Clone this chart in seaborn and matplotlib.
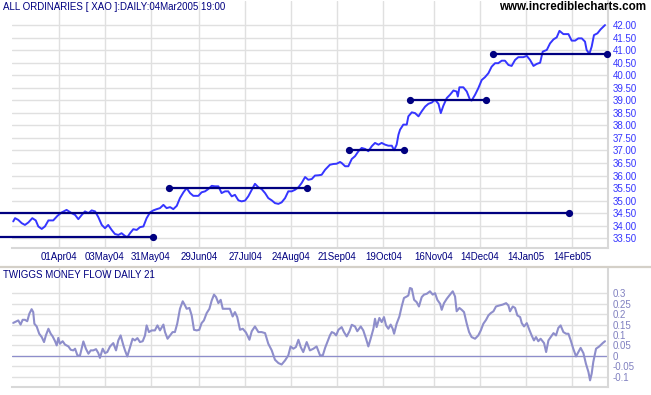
import matplotlib
matplotlib.use("Agg")
import matplotlib.pyplot as plt
import seaborn as sns
import pandas as pd
import numpy as np

sns.set_theme(style="whitegrid")
plt.rcParams['font.family'] = ['Liberation Sans', 'DejaVu Sans']

# x values are trading-day numbers counted from the first bar (04Mar04)
price_bar = [
    0.1, 0.9, 2.3, 3.8, 5.2, 6.7, 8.4, 9.9, 11.0, 12.5, 13.9, 15.4, 17.5, 19.3,
    21.2, 23.3, 25.5, 27.0, 28.4, 29.9, 31.3, 32.8, 34.2, 35.7, 37.1, 38.6, 40.0,
    41.4, 42.9, 44.3, 45.8, 47.2, 48.7, 49.7, 50.9, 52.3, 53.8, 55.2, 56.7, 58.1,
    59.6, 61.0, 62.5, 63.9, 65.4, 66.8, 68.3, 69.7, 71.2, 72.6, 74.1, 75.5, 77.0,
    78.4, 80.6, 82.0, 83.5, 84.9, 86.4, 87.8, 89.3, 90.7, 92.2, 93.6, 95.1, 96.5,
    98.0, 99.4, 100.9, 102.3, 103.8, 105.2, 106.7, 108.1, 109.6, 111.0, 112.5,
    113.9, 115.4, 116.8, 118.3, 119.7, 121.2, 122.6, 124.1, 125.5, 127.0, 128.4,
    129.9, 131.3, 132.8, 134.2, 135.7, 137.8, 139.3, 140.7, 142.2, 142.9, 144.4,
    145.8, 147.3, 148.7, 150.2, 151.6, 153.1, 154.5, 156.0, 157.4, 158.9, 160.3,
    161.8, 163.2, 164.7, 165.7, 166.8, 167.6, 168.3, 169.7, 171.2, 171.9, 173.4,
    174.8, 176.3, 177.7, 179.2, 180.6, 182.1, 183.5, 185.0, 186.0, 187.1, 188.6,
    190.0, 191.5, 192.9, 193.4, 194.1, 195.8, 197.3, 198.7, 199.4, 200.9, 202.3,
    203.8, 205.2, 206.7, 208.1, 209.6, 211.0, 212.5, 213.9, 215.4, 216.8, 218.3,
    219.7, 221.9, 223.4, 224.8, 226.3, 227.7, 229.2, 230.3, 232.1, 233.5, 235.0,
    236.4, 237.6, 239.3, 241.5, 242.9, 244.4, 245.8, 247.3, 248.7, 249.4, 250.6,
    251.6, 252.6, 254.1, 255.5, 257.4,
]
price = [
    34.17, 34.30, 34.23, 34.10, 34.03, 34.13, 34.30, 34.21, 33.97, 33.87, 33.97,
    34.21, 34.21, 34.39, 34.53, 34.63, 34.50, 34.43, 34.26, 34.43, 34.57, 34.50,
    34.61, 34.57, 34.34, 34.03, 33.90, 34.03, 33.83, 33.67, 33.63, 33.70, 33.59,
    33.54, 33.70, 33.86, 33.83, 33.94, 33.97, 34.30, 34.53, 34.61, 34.66, 34.70,
    34.83, 34.70, 34.74, 34.66, 34.79, 35.10, 35.33, 35.50, 35.30, 35.19, 35.19,
    35.33, 35.37, 35.46, 35.59, 35.57, 35.57, 35.30, 35.37, 35.37, 35.17, 35.23,
    35.01, 34.97, 35.00, 35.17, 35.43, 35.67, 35.53, 35.46, 35.30, 35.10, 35.01,
    34.90, 34.87, 34.93, 35.10, 35.37, 35.37, 35.43, 35.53, 35.70, 35.94, 35.83,
    35.86, 36.00, 36.01, 36.03, 36.23, 36.43, 36.46, 36.47, 36.54, 36.50, 36.37,
    36.37, 36.66, 36.77, 36.97, 37.10, 37.06, 36.97, 37.17, 37.30, 37.23, 37.30,
    37.23, 37.19, 37.19, 37.01, 37.23, 37.63, 37.83, 38.03, 38.03, 38.36, 38.52,
    38.49, 38.36, 38.56, 38.75, 38.86, 38.91, 39.02, 38.86, 38.49, 38.78, 39.09,
    39.22, 39.39, 39.35, 39.15, 39.52, 39.52, 39.35, 39.02, 38.99, 39.22, 39.48,
    39.81, 39.92, 40.08, 40.34, 40.48, 40.48, 40.58, 40.58, 40.41, 40.37, 40.61,
    40.72, 40.72, 40.77, 40.61, 40.37, 40.45, 40.50, 40.94, 41.01, 41.27, 41.43,
    41.51, 41.77, 41.64, 41.64, 41.38, 41.38, 41.47, 41.47, 41.34, 41.01, 40.85,
    41.14, 41.60, 41.67, 41.83, 42.00,
]

mf_bar = [
    0.1, 1.6, 2.3, 3.3, 4.2, 5.2, 6.2, 7.1, 8.1, 8.8, 9.3, 10.3, 11.4, 12.5, 13.5,
    14.3, 15.4, 16.4, 17.2, 18.3, 19.0, 19.7, 20.4, 21.6, 22.6, 24.1, 25.1, 26.2,
    27.0, 28.0, 29.1, 30.6, 31.7, 32.8, 33.8, 34.9, 36.1, 37.1, 37.8, 39.0, 40.0,
    41.0, 42.2, 43.6, 44.8, 45.8, 46.8, 48.0, 48.7, 49.7, 50.9, 52.0, 53.0, 54.1,
    55.2, 56.4, 57.4, 58.1, 59.1, 60.3, 61.7, 62.8, 63.9, 65.4, 66.1, 67.2, 68.3,
    69.4, 70.4, 71.4, 72.6, 73.8, 74.8, 75.5, 76.7, 77.7, 78.7, 79.9, 81.0, 82.0,
    83.0, 84.2, 85.4, 86.4, 87.4, 88.3, 89.3, 90.3, 91.2, 92.6, 94.3, 95.5, 96.5,
    97.5, 98.7, 99.9, 101.3, 102.8, 103.8, 105.2, 106.7, 108.1, 109.6, 111.0,
    112.5, 113.9, 115.4, 116.8, 118.3, 119.7, 120.7, 121.9, 123.0, 124.1, 125.1,
    126.2, 127.7, 129.1, 130.6, 132.0, 133.5, 134.7, 135.7, 136.7, 137.8, 138.6,
    139.6, 140.5, 141.5, 142.9, 143.9, 145.1, 146.3, 147.3, 148.7, 149.7, 151.2,
    152.3, 153.5, 154.5, 155.5, 156.7, 157.4, 158.1, 159.3, 160.3, 161.3, 162.2,
    163.2, 164.2, 165.1, 165.7, 166.8, 168.0, 169.0, 170.0, 171.2, 171.9, 172.6,
    173.4, 174.4, 175.5, 176.5, 177.7, 178.7, 179.9, 181.3, 182.5, 183.5, 184.5,
    185.7, 186.4, 187.4, 188.6, 190.0, 191.2, 192.2, 192.9, 194.1, 195.1, 196.1,
    197.3, 198.3, 199.4, 200.9, 202.3, 203.4, 204.5, 205.7, 206.7, 207.7, 208.9,
    210.0, 211.5, 212.9, 214.4, 215.4, 216.1, 217.3, 218.3, 219.3, 220.5, 221.2,
    222.2, 223.4, 224.5, 225.5, 226.5, 227.4, 228.4, 229.4, 230.9, 231.8, 232.8,
    233.8, 235.0, 236.1, 237.1, 238.1, 239.3, 240.5, 241.5, 242.5, 243.6, 244.8,
    245.8, 246.8, 248.0, 249.1, 250.2, 250.9, 251.6, 252.3, 253.5, 254.9, 256.4,
    257.4,
]
money_flow = [
    0.158, 0.166, 0.170, 0.150, 0.173, 0.173, 0.166, 0.202, 0.224, 0.210, 0.154,
    0.141, 0.106, 0.090, 0.066, 0.098, 0.130, 0.106, 0.094, 0.070, 0.050, 0.086,
    0.058, 0.070, 0.054, 0.045, 0.029, 0.026, 0.034, 0.002, 0.000, 0.069, 0.034,
    0.010, 0.026, 0.026, 0.032, 0.013, -0.010, 0.034, 0.013, 0.018, 0.045, 0.061,
    0.026, 0.074, 0.098, 0.050, 0.026, -0.003, 0.042, 0.082, 0.074, 0.085, 0.066,
    0.070, 0.098, 0.146, 0.114, 0.122, 0.122, 0.146, 0.122, 0.150, 0.114, 0.082,
    0.098, 0.114, 0.114, 0.154, 0.226, 0.262, 0.242, 0.226, 0.230, 0.194, 0.125,
    0.122, 0.125, 0.157, 0.170, 0.205, 0.226, 0.266, 0.294, 0.282, 0.253, 0.269,
    0.226, 0.226, 0.226, 0.189, 0.210, 0.186, 0.125, 0.130, 0.112, 0.077, 0.118,
    0.141, 0.114, 0.114, 0.109, 0.058, 0.026, -0.019, -0.035, -0.042, -0.022,
    0.002, 0.045, 0.034, 0.042, 0.077, 0.042, 0.018, 0.066, 0.026, 0.034, 0.045,
    0.002, 0.002, 0.038, 0.066, 0.098, 0.114, 0.109, 0.098, 0.125, 0.138, 0.114,
    0.093, 0.118, 0.149, 0.141, 0.118, 0.141, 0.122, 0.082, 0.045, 0.082, 0.130,
    0.178, 0.138, 0.182, 0.162, 0.186, 0.146, 0.130, 0.150, 0.130, 0.106, 0.154,
    0.189, 0.237, 0.278, 0.285, 0.290, 0.326, 0.322, 0.269, 0.258, 0.237, 0.282,
    0.294, 0.298, 0.310, 0.294, 0.301, 0.269, 0.250, 0.221, 0.253, 0.274, 0.294,
    0.310, 0.285, 0.214, 0.230, 0.221, 0.210, 0.154, 0.114, 0.090, 0.082, 0.098,
    0.122, 0.154, 0.173, 0.194, 0.205, 0.214, 0.237, 0.242, 0.246, 0.253, 0.242,
    0.214, 0.237, 0.230, 0.194, 0.186, 0.157, 0.141, 0.157, 0.125, 0.098, 0.074,
    0.090, 0.070, 0.082, 0.061, 0.018, 0.074, 0.090, 0.109, 0.098, 0.134, 0.146,
    0.114, 0.106, 0.106, 0.074, 0.034, -0.003, 0.018, 0.038, 0.013, -0.038,
    -0.078, -0.118, -0.086, -0.030, 0.034, 0.045, 0.061, 0.070,
]

# trend lines: start bar, end bar, level, dot at start, dot at end
trend_start = [-5.6, -5.6, 68.0, 146.0, 172.6, 208.7]
trend_end = [241.7, 61.0, 128.0, 170.0, 205.7, 258.3]
trend_level = [34.52, 33.53, 35.50, 37.00, 39.00, 40.83]
trend_dot_start = [False, False, True, True, True, True]

tick_bars = [20, 40, 60, 81, 101, 121, 141, 161, 183, 203, 223, 243]
tick_labels = ['01Apr04', '03May04', '31May04', '29Jun04', '27Jul04', '24Aug04',
               '21Sep04', '19Oct04', '16Nov04', '14Dec04', '14Jan05', '14Feb05']
price_ticks = np.arange(33.5, 42.01, 0.5)
mf_ticks = [-0.1, -0.05, 0, 0.05, 0.1, 0.15, 0.2, 0.25, 0.3]
mf_labels = ['-0.1', '-0.05', '0', '0.05', '0.1', '0.15', '0.2', '0.25', '0.3']

navy = '#000080'
grid_c = '#e0e0e0'
W, H = 651, 395

fig = plt.figure(figsize=(W / 100, H / 100), dpi=100)
fig.patch.set_facecolor('white')
ax1 = fig.add_axes([12 / W, 1 - 248 / H, 596 / W, 247 / H])
ax2 = fig.add_axes([12 / W, 1 - 387 / H, 596 / W, 119 / H])

df_price = pd.DataFrame({'bar': price_bar, 'close': price})
df_mf = pd.DataFrame({'bar': mf_bar, 'tmf': money_flow})

sns.lineplot(data=df_price, x='bar', y='close', ax=ax1, color='#3535ff', lw=1.4, zorder=3)
for x0, x1, lev, d0 in zip(trend_start, trend_end, trend_level, trend_dot_start):
    ax1.plot([x0, x1], [lev, lev], color=navy, lw=1.6, clip_on=False, zorder=4)
    ax1.plot([x1], [lev], 'o', color=navy, ms=4.2, clip_on=False, zorder=5)
    if d0:
        ax1.plot([x0], [lev], 'o', color=navy, ms=4.2, clip_on=False, zorder=5)

sns.lineplot(data=df_mf, x='bar', y='tmf', ax=ax2, color='#8e8ecb', lw=1.5, zorder=3)
ax2.axhline(0, color='#8e8ecb', lw=0.9, zorder=2)

for ax in (ax1, ax2):
    ax.set_facecolor('white')
    ax.set_xlim(-0.43, 258.7)
    ax.set_xticks(tick_bars)
    ax.grid(True, color=grid_c, lw=1.0)
    ax.set_xlabel('')
    ax.set_ylabel('')
    ax.yaxis.tick_right()
    ax.tick_params(length=0)
    for s in ('left', 'top'):
        ax.spines[s].set_visible(False)
    for s in ('bottom', 'right'):
        ax.spines[s].set_color('#d8d8d8')
        ax.spines[s].set_linewidth(1.5)

ax1.set_ylim(33.11, 42.96)
ax1.set_yticks(price_ticks)
ax1.set_yticklabels([f'{v:.2f}' for v in price_ticks], color='#3535ff', fontsize=7)
ax1.set_xticklabels(tick_labels, color=navy, fontsize=7)
ax1.tick_params(axis='y', pad=3.5)
ax1.tick_params(axis='x', pad=3)

ax2.set_ylim(-0.150, 0.422)
ax2.set_yticks(mf_ticks)
ax2.set_yticklabels(mf_labels, color='#8080c0', fontsize=7)
ax2.set_xticklabels([])
ax2.tick_params(axis='y', pad=3.5)

# panel separator
fig.add_artist(plt.Line2D([0, 1], [1 - 267 / H, 1 - 267 / H], color='#d4d0c8', lw=1.6))

fig.text(3 / W, 1 - 7 / H, 'ALL ORDINARIES [ XAO ]:DAILY:04Mar2005 19:00',
         color=navy, fontsize=7, va='center', ha='left')
fig.text(646 / W, 1 - 7 / H, 'www.incrediblecharts.com', color='black',
         fontsize=8.4, fontweight='bold', va='center', ha='right')
fig.text(3 / W, 1 - 275 / H, 'TWIGGS MONEY FLOW DAILY 21', color=navy,
         fontsize=7, va='center', ha='left')

fig.savefig('out.png', dpi=100, facecolor='white')
